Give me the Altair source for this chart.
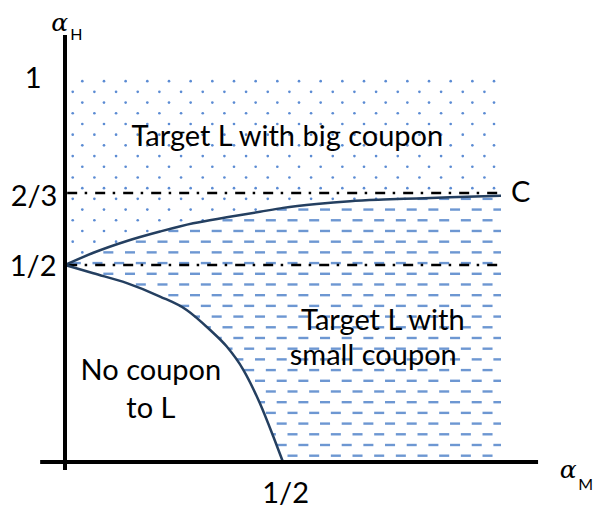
import altair as alt
import pandas as pd
import numpy as np

# ---- boundary curves, in diagram units (alpha_M across, alpha_H up) ----
upper_x = [0.0, 0.065, 0.142, 0.218, 0.294, 0.371, 0.447, 0.5, 0.577, 0.654, 0.730, 0.807, 0.883, 1.0]
upper_y = [0.5, 0.531, 0.561, 0.585, 0.606, 0.621, 0.635, 0.645, 0.655, 0.662, 0.666, 0.669, 0.672, 0.676]
lower_x = [0.0, 0.065, 0.142, 0.218, 0.279, 0.333, 0.371, 0.409, 0.447, 0.478, 0.5]
lower_y = [0.5, 0.479, 0.454, 0.420, 0.386, 0.335, 0.293, 0.234, 0.149, 0.064, 0.0]

# dash-dot guide lines (1/2 and 2/3, as drawn in the sketch)
guide_y = [0.5, 0.683]
guide_x0 = [0.005, 0.005]
guide_x1 = [1.0, 1.0]

# axis lines
axis_x0 = [-0.057, 0.0]
axis_x1 = [1.085, 0.0]
axis_y0 = [0.0, -0.020]
axis_y1 = [0.0, 1.084]

# text labels
label_text = ["1", "2/3", "1/2", "1/2", "C", "Target L with big coupon",
              "Target L with", "small coupon", "No coupon", "to L"]
label_x = [-0.073, -0.071, -0.073, 0.506, 1.045, 0.510, 0.729, 0.707, 0.197, 0.197]
label_y = [0.949, 0.650, 0.472, -0.103, 0.661, 0.802, 0.335, 0.246, 0.208, 0.112]

alpha_x = [-0.012, 1.154]
alpha_y = [1.094, -0.041]
sub_text = ["H", "M"]
sub_x = [0.026, 1.194]
sub_y = [1.070, -0.071]

# ---- shading texture (decoration only) ----
top_edge = 0.982
right_edge = 1.0
step_x = 0.0497
step_y = 0.02716
row0 = 0.016
n_rows = 36
dash_half = 0.0115
y_end = upper_y[-1]

dash_x, dash_x2, dash_y = [], [], []
dot_x, dot_y = [], []
for k in range(n_rows):
    y = row0 + step_y * k
    odd = (k % 2 == 1)
    if y < y_end:
        if y < 0.5:
            xlo = float(np.interp(y, lower_y[::-1], lower_x[::-1]))
        else:
            xlo = float(np.interp(y, upper_y, upper_x))
        c = (0.0 if odd else 0.0248) - step_x
        while c - dash_half < right_edge:
            a = max(c - dash_half, xlo)
            b = min(c + dash_half, right_edge)
            if b - a > 0.002:
                dash_x.append(a)
                dash_x2.append(b)
                dash_y.append(y)
            c += step_x
    if 0.5 <= y <= top_edge:
        xhi = right_edge if y >= y_end else float(np.interp(y, upper_y, upper_x))
        c = 0.0397 if odd else 0.0177
        while c <= xhi - 0.004:
            dot_x.append(c)
            dot_y.append(y)
            c += step_x

# ---- scales: map diagram units onto the page ----
W, H = 586, 501
x0_px, x_unit = 57.0, 436.0
y0_px, y_unit = 454.0, 394.0
xdom = [-x0_px / x_unit, (W - x0_px) / x_unit]
ydom = [(y0_px - H) / y_unit, y0_px / y_unit]
xs = alt.Scale(domain=xdom, nice=False, zero=False)
ys = alt.Scale(domain=ydom, nice=False, zero=False)

def X(f="x"):
    return alt.X(f"{f}:Q", scale=xs, axis=None)

def Y(f="y"):
    return alt.Y(f"{f}:Q", scale=ys, axis=None)

dash_df = pd.DataFrame({"x": dash_x, "x2": dash_x2, "y": dash_y})
dot_df = pd.DataFrame({"x": dot_x, "y": dot_y})
upper_df = pd.DataFrame({"x": upper_x, "y": upper_y})
lower_df = pd.DataFrame({"x": lower_x, "y": lower_y})
guide_df = pd.DataFrame({"x": guide_x0, "x2": guide_x1, "y": guide_y})
axis_df = pd.DataFrame({"x": axis_x0, "x2": axis_x1, "y": axis_y0, "y2": axis_y1})
label_df = pd.DataFrame({"t": label_text, "x": label_x, "y": label_y})
alpha_df = pd.DataFrame({"t": ["α", "α"], "x": alpha_x, "y": alpha_y})
sub_df = pd.DataFrame({"t": sub_text, "x": sub_x, "y": sub_y})

dashes = alt.Chart(dash_df).mark_rule(color="#6d97d2", strokeWidth=2.4, strokeCap="butt").encode(
    x=X(), x2="x2:Q", y=Y())
dots = alt.Chart(dot_df).mark_circle(color="#5b8bd3", size=7, opacity=1).encode(x=X(), y=Y())
guides = alt.Chart(guide_df).mark_rule(color="black", strokeWidth=2.5, strokeDash=[10, 7.5, 2.5, 8]).encode(
    x=X(), x2="x2:Q", y=Y())
curve_u = alt.Chart(upper_df).mark_line(color="#243f60", strokeWidth=2.5, interpolate="monotone").encode(
    x=X(), y=Y())
curve_l = alt.Chart(lower_df).mark_line(color="#243f60", strokeWidth=2.5, interpolate="monotone").encode(
    x=X(), y=Y())
axes = alt.Chart(axis_df).mark_rule(color="black", strokeWidth=4, strokeCap="butt").encode(
    x=X(), x2="x2:Q", y=Y(), y2="y2:Q")
labels = alt.Chart(label_df).mark_text(font="Lato", fontSize=29, color="black",
                                       align="center", baseline="alphabetic").encode(
    x=X(), y=Y(), text="t:N")
alphas = alt.Chart(alpha_df).mark_text(font="DejaVu Serif", fontStyle="italic", fontSize=25,
                                       color="black", align="center", baseline="alphabetic").encode(
    x=X(), y=Y(), text="t:N")
subs = alt.Chart(sub_df).mark_text(font="Lato", fontSize=16, color="black",
                                   align="center", baseline="alphabetic").encode(
    x=X(), y=Y(), text="t:N")

chart = alt.layer(dashes, dots, guides, curve_u, curve_l, axes, labels, alphas, subs).properties(
    width=W, height=H, padding=0, autosize="none", background="white"
).configure_view(stroke=None)

chart.save("out.html", embed_options={"renderer": "svg", "actions": False})
